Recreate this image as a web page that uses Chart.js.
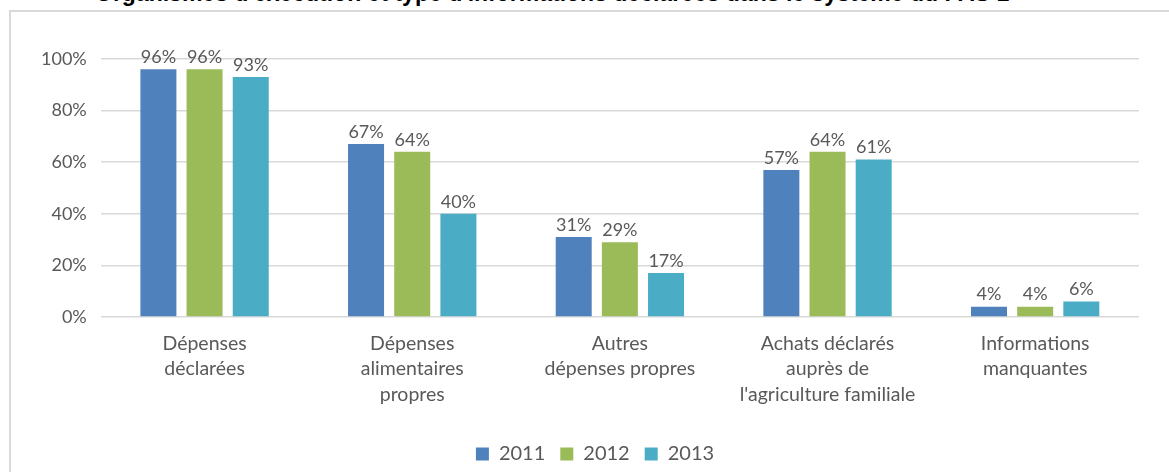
<!DOCTYPE html>
<html>
<head>
<meta charset="utf-8">
<script src="https://cdn.jsdelivr.net/npm/chart.js@4.4.1/dist/chart.umd.min.js"></script>
<style>
  html, body { margin: 0; padding: 0; background: #fff; overflow: hidden; }
  #wrap { position: relative; width: 1169px; height: 472px; overflow: hidden; }
  #title { position: absolute; left: 95px; top: -20px; font: bold 23px "Liberation Sans", sans-serif; color: #000; white-space: nowrap; }
  #frame { position: absolute; left: 9px; top: 10px; width: 1200px; height: 500px; border-left: 2px solid #d9d9d9; border-top: 2px solid #d9d9d9; }
  #chart { position: absolute; left: 0; top: 0; }
</style>
</head>
<body>
<div id="wrap">
  <div id="title">Organismes d'exécution et type d'informations déclarées dans le système du PAS 1</div>
  <div id="frame"></div>
  <canvas id="chart" width="1169" height="472"></canvas>
</div>
<script>
const categories = [
  ['Dépenses', 'déclarées'],
  ['Dépenses', 'alimentaires', 'propres'],
  ['Autres', 'dépenses propres'],
  ['Achats déclarés', 'auprès de', "l'agriculture familiale"],
  ['Informations', 'manquantes']
];
const years = ['2011', '2012', '2013'];
const values2011 = [96, 67, 31, 57, 4];
const values2012 = [96, 64, 29, 64, 4];
const values2013 = [93, 40, 17, 61, 6];
const colors = ['#4f81bd', '#9bbb59', '#4bacc6'];
const yTicks = [0, 20, 40, 60, 80, 100];

const textColor = '#595959';
const fontFamily = 'Lato, "Open Sans", sans-serif';

// little plugin that writes the percentage above each bar
const barLabels = {
  id: 'barLabels',
  afterDatasetsDraw(chart) {
    const ctx = chart.ctx;
    ctx.save();
    ctx.font = '18px ' + fontFamily;
    ctx.fillStyle = textColor;
    ctx.textAlign = 'center';
    ctx.textBaseline = 'bottom';
    chart.data.datasets.forEach((ds, i) => {
      chart.getDatasetMeta(i).data.forEach((bar, j) => {
        ctx.fillText(ds.data[j] + '%', bar.x, bar.y - 3);
      });
    });
    ctx.restore();
  }
};

// nudge the legend a bit to the right and down, like the original
const legendShift = {
  id: 'legendShift',
  afterLayout(chart) {
    chart.legend.left += 24;
    chart.legend.top += 2;
    chart.legend.bottom += 2;
  }
};

new Chart(document.getElementById('chart').getContext('2d'), {
  type: 'bar',
  data: {
    labels: categories,
    datasets: [
      { label: years[0], data: values2011, backgroundColor: colors[0] },
      { label: years[1], data: values2012, backgroundColor: colors[1] },
      { label: years[2], data: values2013, backgroundColor: colors[2] }
    ]
  },
  options: {
    responsive: false,
    animation: false,
    datasets: { bar: { categoryPercentage: 0.667, barPercentage: 0.78 } },
    layout: { padding: { left: 27, right: 30, top: 59, bottom: 0 } },
    scales: {
      x: {
        grid: { display: false },
        border: { display: false },
        ticks: { color: textColor, font: { family: fontFamily, size: 19.5, lineHeight: 1.3 }, maxRotation: 0, autoSkip: false, padding: 6 },
        afterFit: (axis) => { axis.height += 14; }
      },
      y: {
        min: 0,
        max: 100,
        afterBuildTicks: (axis) => { axis.ticks = yTicks.map(v => ({ value: v })); },
        grid: { color: '#d9d9d9', lineWidth: 1.5, drawTicks: false },
        border: { display: false },
        ticks: { color: textColor, font: { family: fontFamily, size: 18 }, padding: 14, callback: v => v + '%' }
      }
    },
    plugins: {
      legend: {
        position: 'bottom',
        labels: { color: textColor, font: { family: fontFamily, size: 20 }, boxWidth: 13, boxHeight: 13, padding: 15 }
      },
      tooltip: { enabled: false }
    }
  },
  plugins: [barLabels, legendShift]
});
</script>
</body>
</html>
